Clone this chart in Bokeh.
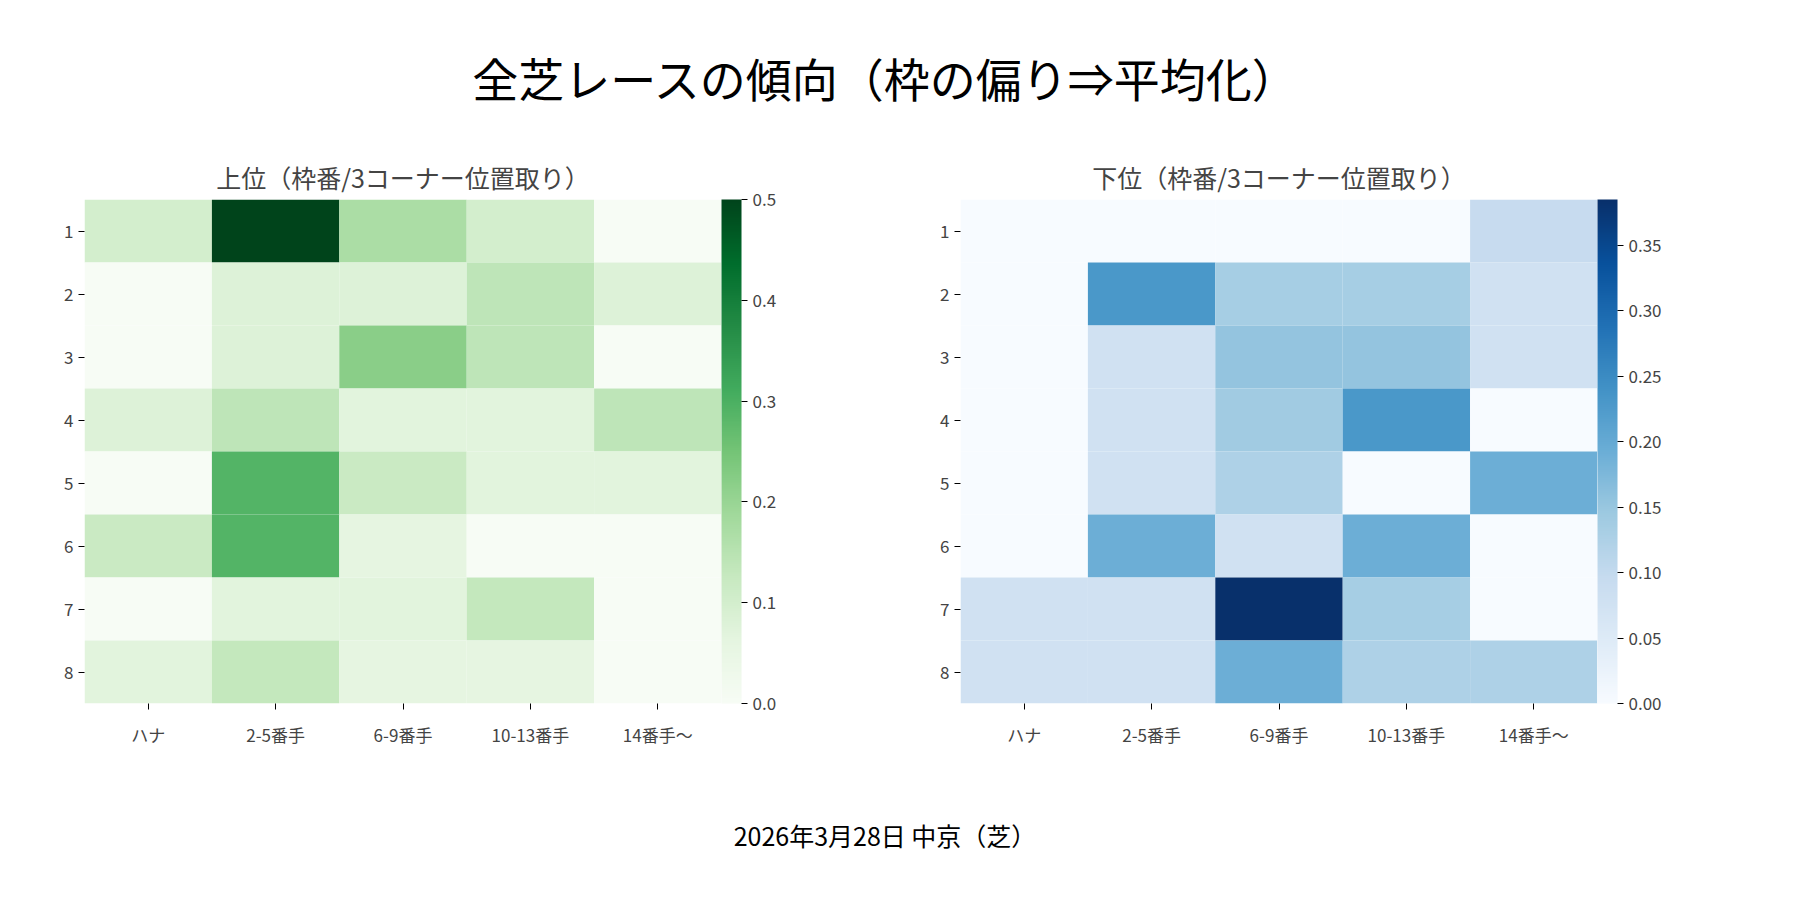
from bokeh.plotting import figure
from bokeh.models import ColorBar, LinearColorMapper, FixedTicker, Div, ColumnDataSource, NumeralTickFormatter, Title
from bokeh.layouts import column, row
from bokeh.palettes import Greens256, Blues256
from bokeh.embed import file_html
from bokeh.resources import INLINE

cols = ["ハナ", "2-5番手", "6-9番手", "10-13番手", "14番手〜"]
rows_ = ["1", "2", "3", "4", "5", "6", "7", "8"]
top = [
    [0.10, 0.50, 0.17, 0.10, 0.00],
    [0.00, 0.08, 0.08, 0.14, 0.08],
    [0.00, 0.08, 0.22, 0.14, 0.00],
    [0.08, 0.14, 0.07, 0.07, 0.14],
    [0.00, 0.29, 0.12, 0.07, 0.07],
    [0.12, 0.29, 0.06, 0.00, 0.00],
    [0.00, 0.07, 0.07, 0.13, 0.00],
    [0.07, 0.13, 0.06, 0.06, 0.00],
]
bottom = [
    [0.000, 0.000, 0.000, 0.000, 0.096],
    [0.000, 0.231, 0.135, 0.135, 0.077],
    [0.000, 0.077, 0.154, 0.154, 0.077],
    [0.000, 0.077, 0.140, 0.231, 0.000],
    [0.000, 0.077, 0.125, 0.000, 0.192],
    [0.000, 0.192, 0.077, 0.192, 0.000],
    [0.077, 0.077, 0.385, 0.135, 0.000],
    [0.077, 0.077, 0.192, 0.125, 0.125],
]
FONT = "Noto Sans CJK JP"

def panel(title, data, pal, high, ticks, fmt, left):
    xs, ys, vs = [], [], []
    for i, r in enumerate(rows_):
        for j, c in enumerate(cols):
            xs.append(c); ys.append(r); vs.append(data[i][j])
    src = ColumnDataSource(dict(x=xs, y=ys, v=vs))
    mapper = LinearColorMapper(palette=list(reversed(pal)), low=0, high=high)
    p = figure(x_range=cols, y_range=list(reversed(rows_)), frame_width=637, frame_height=504,
               output_backend="svg", toolbar_location=None, title=title,
               min_border_left=left, min_border_right=130, min_border_top=69, min_border_bottom=60)
    p.rect(x="x", y="y", width=1, height=1, source=src,
           fill_color={"field": "v", "transform": mapper}, line_color=None)
    p.add_layout(Title(text="\u2003", text_font_size="26px", text_color=None), "right")
    cb = ColorBar(color_mapper=mapper, width=20, ticker=FixedTicker(ticks=ticks),
                  formatter=NumeralTickFormatter(format=fmt), padding=0,
                  major_label_text_font_size="17px", major_label_text_font=FONT,
                  major_tick_line_color="black", major_tick_out=6, major_tick_in=0,
                  bar_line_color=None, border_line_color=None)
    p.add_layout(cb, "right")
    p.title.align = "center"
    p.title.text_font = FONT
    p.title.text_font_size = "25px"
    p.title.text_font_style = "normal"
    p.grid.visible = False
    p.outline_line_color = None
    for ax in (p.xaxis, p.yaxis):
        ax.axis_line_color = None
        ax.minor_tick_line_color = None
        ax.major_tick_out = 6
        ax.major_tick_in = 0
        ax.major_label_text_font = FONT
        ax.major_label_text_font_size = "17px"
    p.xaxis.major_label_standoff = 12
    return p

p1 = panel("上位（枠番/3コーナー位置取り）", top, Greens256, 0.5,
           [0, 0.1, 0.2, 0.3, 0.4, 0.5], "0.0", 84)
p2 = panel("下位（枠番/3コーナー位置取り）", bottom, Blues256, 0.385,
           [0, 0.05, 0.1, 0.15, 0.2, 0.25, 0.3, 0.35], "0.00", 109)

t = Div(text="全芝レースの傾向（枠の偏り⇒平均化）", width=1760, height=120,
        styles={"font-family": FONT, "font-size": "46px", "text-align": "center",
                "width": "1760px", "padding-top": "40px"})
f = Div(text="2026年3月28日 中京（芝）", width=1760, height=90,
        styles={"font-family": FONT, "font-size": "25px", "text-align": "center",
                "width": "1760px", "padding-top": "50px"})
lay = column(t, row(p1, p2), f)
open("out.html", "w").write(file_html(lay, INLINE))
